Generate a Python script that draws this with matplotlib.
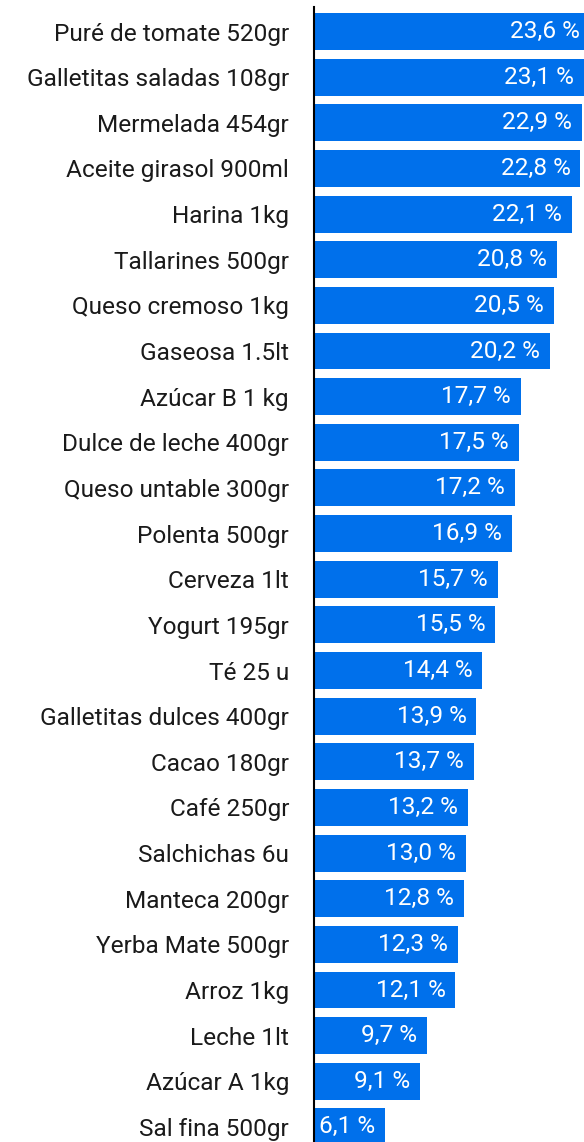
import matplotlib
matplotlib.use("Agg")
import matplotlib.pyplot as plt

plt.rcParams['font.family'] = ['Roboto', 'DejaVu Sans']

products = ["Puré de tomate 520gr", "Galletitas saladas 108gr", "Mermelada 454gr",
            "Aceite girasol 900ml", "Harina 1kg", "Tallarines 500gr", "Queso cremoso 1kg",
            "Gaseosa 1.5lt", "Azúcar B 1 kg", "Dulce de leche 400gr", "Queso untable 300gr",
            "Polenta 500gr", "Cerveza 1lt", "Yogurt 195gr", "Té 25 u", "Galletitas dulces 400gr",
            "Cacao 180gr", "Café 250gr", "Salchichas 6u", "Manteca 200gr", "Yerba Mate 500gr",
            "Arroz 1kg", "Leche 1lt", "Azúcar A 1kg", "Sal fina 500gr"]
values = [23.6, 23.1, 22.9, 22.8, 22.1, 20.8, 20.5, 20.2, 17.7, 17.5, 17.2, 16.9,
          15.7, 15.5, 14.4, 13.9, 13.7, 13.2, 13.0, 12.8, 12.3, 12.1, 9.7, 9.1, 6.1]

W, H = 584, 1142
fig = plt.figure(figsize=(W/100, H/100), dpi=100)
ax = fig.add_axes([314/W, 0, (W-314)/W, (H-7)/H])

color = '#0070EB'
ypos = list(range(len(values)))
ax.barh(ypos, values, height=0.81, color=color)
ax.set_ylim(24.33, -0.537)
ax.set_xlim(0, 23.1)

for y, v in zip(ypos, values):
    ax.annotate(f"{v:.1f} %".replace('.', ','), xy=(v, y), xytext=(-7.2, 0),
                textcoords='offset points', ha='right', va='center',
                color='white', fontsize=17.6, annotation_clip=False)

ax.set_yticks(ypos)
ax.set_yticklabels(products, fontsize=17.6, color='#1a1a1a')
ax.tick_params(axis='y', length=0, pad=18)
ax.set_xticks([])
for s in ['top', 'right', 'bottom']:
    ax.spines[s].set_visible(False)
ax.spines['left'].set_linewidth(1.5)
ax.spines['left'].set_color('black')

fig.savefig('out.png', dpi=100)
